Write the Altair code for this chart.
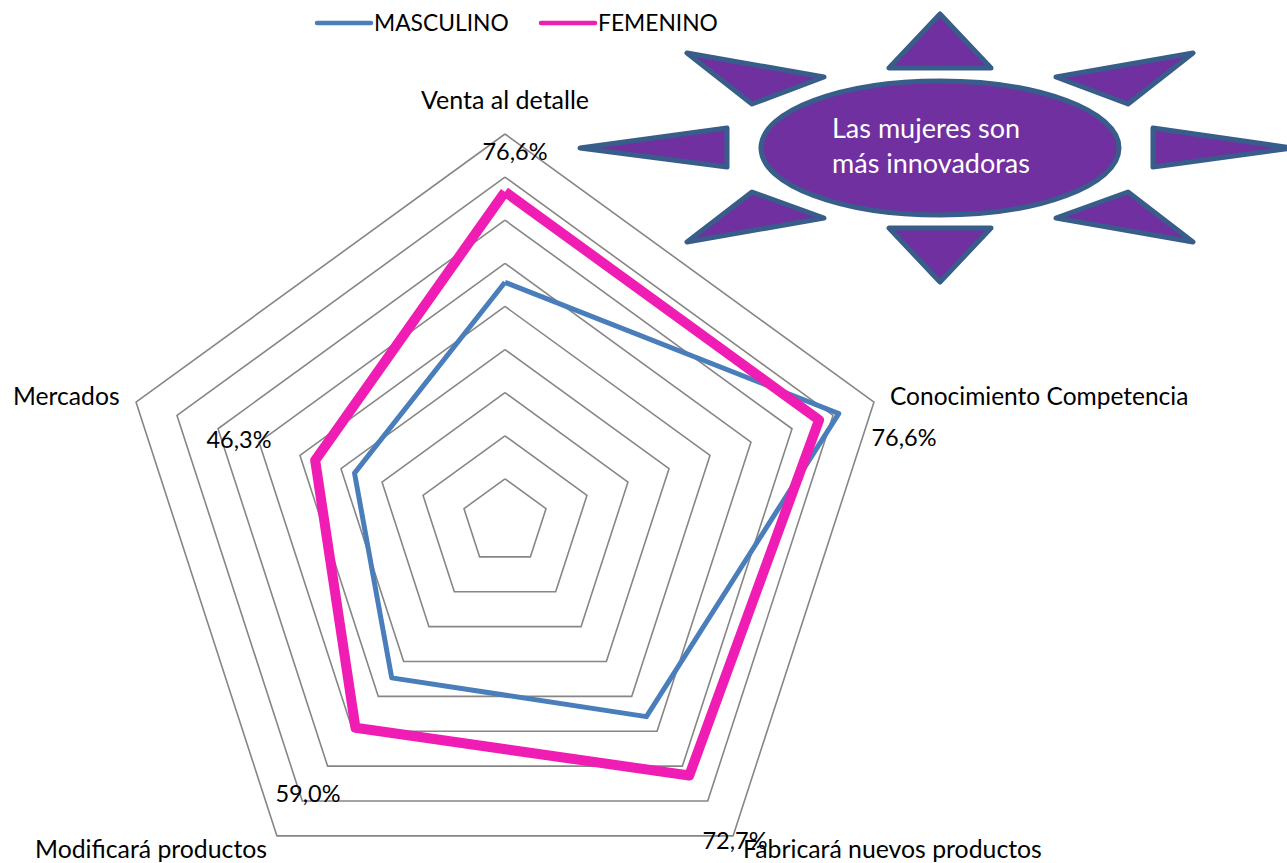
import math
import altair as alt
import pandas as pd

CATEGORIES = ["Venta al detalle", "Conocimiento Competencia", "Fabricará nuevos productos",
              "Modificará productos", "Mercados"]
MASCULINO = [55.6, 81.4, 55.8, 44.7, 36.7]
FEMENINO = [76.6, 76.6, 72.7, 59.0, 46.3]
RING_LEVELS = [10, 20, 30, 40, 50, 60, 70, 80, 90]

W, H = 1287, 863
FONT = "Lato"
CX, CY, PX_PER_UNIT = 505, 522, 388 / 90

x_scale = alt.Scale(domain=[-CX / PX_PER_UNIT, (W - CX) / PX_PER_UNIT], range=[0, W], nice=False, zero=False)
y_scale = alt.Scale(domain=[(H - CY) / -PX_PER_UNIT, CY / PX_PER_UNIT], range=[H, 0], nice=False, zero=False)


def polygon(values, name):
    """Closed polygon around the radar centre, one vertex per category."""
    rows = []
    for i, v in enumerate(list(values) + [values[0]]):
        a = 2 * math.pi * (i % len(values)) / len(values)
        rows.append({"x": v * math.sin(a), "y": v * math.cos(a), "i": i, "name": name})
    return rows


def radar_line(df, color, width):
    return alt.Chart(df).mark_line(color=color, strokeWidth=width, strokeJoin="round", clip=False).encode(
        x=alt.X("x:Q", scale=x_scale, axis=None),
        y=alt.Y("y:Q", scale=y_scale, axis=None),
        detail="name:N",
        order="i:Q",
    )


rings_df = pd.DataFrame([r for lv in RING_LEVELS for r in polygon([lv] * len(CATEGORIES), f"r{lv}")])
rings = radar_line(rings_df, "#868686", 1.6)
masc = radar_line(pd.DataFrame(polygon(MASCULINO, "MASCULINO")), "#4A7EBB", 5)
fem = radar_line(pd.DataFrame(polygon(FEMENINO, "FEMENINO")), "#F01DB4", 10)

# Text placed in page pixels: category names and the FEMENINO percentages.
CAT_X = [505, 890, 743, 35, 13]
CAT_Y = [101, 398, 851, 851, 398]
CAT_ALIGN = ["center", "left", "left", "left", "left"]
CAT_SIZE = [25, 24.5, 24.8, 24.8, 24.7]
VAL_X = [515, 904, 735, 308, 239]
VAL_Y = [153, 439, 842, 795, 441]


def px_text(rows, size=23.5, color="#000000", align="center", font=FONT):
    return alt.Chart(pd.DataFrame(rows)).mark_text(
        fontSize=size, color=color, align=align, baseline="middle", font=font
    ).encode(
        x=alt.X("px:Q", scale=None, axis=None),
        y=alt.Y("py:Q", scale=None, axis=None),
        text="t:N",
    )


cat_layers = [
    px_text([{"px": CAT_X[i], "py": CAT_Y[i], "t": c}], align=CAT_ALIGN[i], size=CAT_SIZE[i])
    for i, c in enumerate(CATEGORIES)
]
val_rows = [
    {"px": VAL_X[i], "py": VAL_Y[i], "t": f"{v:.1f}%".replace(".", ",")}
    for i, v in enumerate(FEMENINO)
]
val_text = px_text(val_rows)

# Hand-drawn legend along the top edge.
LEGEND = [("MASCULINO", "#4A7EBB", 4.5, 317, 371, 374), ("FEMENINO", "#F01DB4", 4.5, 541, 595, 598)]
legend_layers = []
for label, color, sw, x0, x1, tx in LEGEND:
    legend_layers.append(
        alt.Chart(pd.DataFrame([{"px": x0, "px2": x1, "py": 23}])).mark_rule(
            color=color, strokeWidth=sw, strokeCap="round"
        ).encode(
            x=alt.X("px:Q", scale=None, axis=None),
            x2="px2:Q",
            y=alt.Y("py:Q", scale=None, axis=None),
        )
    )
    legend_layers.append(px_text([{"px": tx, "py": 24, "t": label}], align="left", size=22.8))

# Sun callout: an ellipse ringed by eight triangles, outlined relative to its centre.
SUN_X, SUN_Y = 940, 148
RX, RY = 179, 67
RAYS = [
    [(0, -134), (-51, -80), (51, -80)],
    [(0, 134), (-51, 80), (51, 80)],
    [(-253, -95), (-116, -71), (-188, -44)],
    [(253, -95), (116, -71), (188, -44)],
    [(-253, 94), (-116, 70), (-188, 44)],
    [(253, 94), (116, 70), (188, 44)],
    [(-360, 0), (-213, -20), (-213, 19)],
    [(352, 0), (213, -20), (213, 19)],
]
ray_path = " ".join(
    "M" + " L".join(f"{x},{y}" for x, y in tri) + " Z" for tri in RAYS
)
ellipse_path = f"M{-RX},0 A{RX},{RY} 0 1,1 {RX},0 A{RX},{RY} 0 1,1 {-RX},0 Z"
sun = alt.Chart(pd.DataFrame([{"px": SUN_X, "py": SUN_Y}])).mark_point(
    shape=f"{ray_path} {ellipse_path}", size=4, filled=True, fill="#7030A0",
    stroke="#385D8A", strokeWidth=5, strokeJoin="round", opacity=1,
).encode(
    x=alt.X("px:Q", scale=None, axis=None),
    y=alt.Y("py:Q", scale=None, axis=None),
)
sun_text = alt.layer(
    px_text([{"px": 832, "py": 130, "t": "Las mujeres son"}], color="#FFFFFF", align="left", size=27),
    px_text([{"px": 832, "py": 165, "t": "más innovadoras"}], color="#FFFFFF", align="left", size=27),
)

chart = alt.layer(
    rings, masc, fem, *cat_layers, val_text, *legend_layers, sun, sun_text
).resolve_scale(x="independent", y="independent").properties(
    width=W, height=H, padding=0, autosize=alt.AutoSizeParams(type="none")
).configure_view(stroke=None)

chart.save("out.html", embed_options={"renderer": "svg", "actions": False})
